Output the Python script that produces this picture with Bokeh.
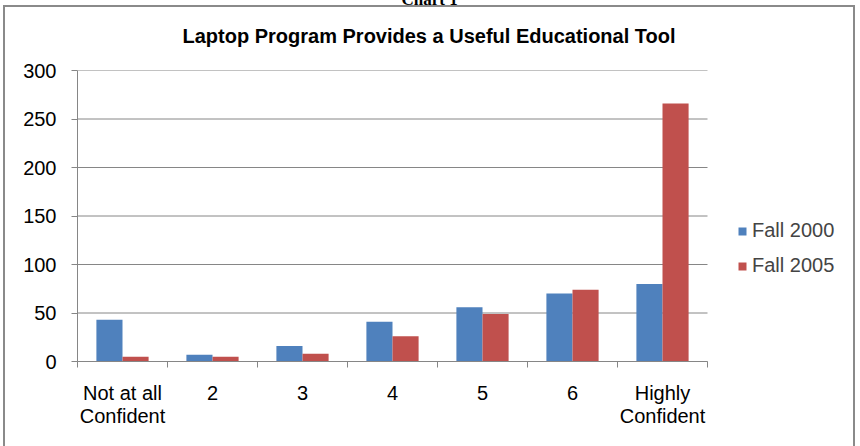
from bokeh.plotting import figure
from bokeh.models import (Range1d, FixedTicker, Legend, LegendItem, ColumnDataSource,
                          Title, InlineStyleSheet)
from bokeh.transform import dodge
from bokeh.embed import file_html
from bokeh.resources import INLINE

categories = ["Not at all\nConfident", "2", "3", "4", "5", "6", "Highly\nConfident"]
fall_2000 = [43, 7, 16, 41, 56, 70, 80]
fall_2005 = [5, 5, 8, 26, 49, 74, 266]
y_ticks = [0, 50, 100, 150, 200, 250, 300]
series_names = ["Fall 2000", "Fall 2005"]
colors = ["#4F81BD", "#C0504D"]
chart_title = "Laptop Program Provides a Useful Educational Tool"
caption = "Chart 1"

FONT = "Liberation Sans"
GRAY = "#868686"
SHIFT = 15          # canvas rows hidden above the window
PLOT_L, PLOT_R = 77, 707   # category area in window pixels
FRAME_R = 852              # frame extends under the legend
n = len(categories)
x_end = n * (FRAME_R - PLOT_L) / (PLOT_R - PLOT_L)

pos = [i + 0.5 for i in range(n)]
src = ColumnDataSource(dict(x=pos, a=fall_2000, b=fall_2005))
grid_src = ColumnDataSource(dict(y=y_ticks, x0=[0] * len(y_ticks), x1=[n] * len(y_ticks)))

css = InlineStyleSheet(css=f"""
:host {{ position: relative; }}
:host::after {{ content: ""; position: absolute; left: 3px; top: {SHIFT + 5}px;
  width: 852px; height: 470px; border: 2px solid #8a8a8a; box-sizing: border-box;
  pointer-events: none; z-index: 100; }}
""")

p = figure(width=860, height=446 + SHIFT, output_backend="svg", toolbar_location=None,
           title=None,
           x_range=Range1d(0, x_end), y_range=Range1d(0, 300),
           min_border_left=PLOT_L, min_border_right=860 - FRAME_R,
           min_border_top=70 + SHIFT, min_border_bottom=85,
           styles={"margin-top": f"-{SHIFT}px"}, stylesheets=[css])
p.outline_line_color = None
p.background_fill_color = "white"
p.border_fill_color = "white"

# horizontal gridlines over the category area only
p.segment(x0="x0", x1="x1", y0="y", y1="y", source=grid_src, line_color=GRAY, line_width=1)

r1 = p.vbar(x=dodge("x", -0.145, range=p.x_range), top="a", width=0.29, source=src,
            fill_color=colors[0], line_color=None)
r2 = p.vbar(x=dodge("x", 0.145, range=p.x_range), top="b", width=0.29, source=src,
            fill_color=colors[1], line_color=None)

# y axis
yax = p.yaxis[0]
yax.ticker = FixedTicker(ticks=y_ticks)
yax.axis_line_color = GRAY
yax.major_tick_line_color = GRAY
yax.major_tick_out = 6
yax.major_tick_in = 0
yax.minor_tick_line_color = None
yax.major_label_text_font = FONT
yax.major_label_text_font_size = "20px"
yax.major_label_text_color = "black"
yax.major_label_standoff = 15

# x axis: labels at category centres, tick marks at category boundaries
xax = p.xaxis[0]
xax.bounds = (0, n)
xax.ticker = FixedTicker(ticks=pos, minor_ticks=list(range(n + 1)))
xax.major_label_overrides = {float(x): c for x, c in zip(pos, categories)}
xax.axis_line_color = GRAY
xax.major_tick_line_color = None
xax.major_tick_out = 0
xax.major_tick_in = 0
xax.minor_tick_line_color = GRAY
xax.minor_tick_out = 6
xax.minor_tick_in = 0
xax.major_label_text_font = FONT
xax.major_label_text_font_size = "20px"
xax.major_label_text_line_height = 1.05
xax.major_label_text_color = "black"
xax.major_label_standoff = 14

p.xgrid.grid_line_color = None
p.ygrid.grid_line_color = None

# blank spacer between the plot frame and the title
p.add_layout(Title(text=" ", text_font_size="6px", standoff=2), "above")

# titles (earlier ones sit nearer the plot frame)
p.add_layout(Title(text=chart_title, align="left", offset=182 - PLOT_L, standoff=28,
                   text_font=FONT, text_font_style="bold", text_font_size="20px",
                   text_color="black"), "above")
p.add_layout(Title(text=caption, align="left", offset=401 - PLOT_L, standoff=0,
                   text_font="Liberation Serif", text_font_style="bold",
                   text_font_size="17px", text_color="black"), "above")

legend = Legend(items=[LegendItem(label=series_names[0], renderers=[r1]),
                       LegendItem(label=series_names[1], renderers=[r2])],
                location=(737 - PLOT_L, 84), orientation="vertical",
                glyph_width=10, glyph_height=10, spacing=12,
                label_standoff=5, padding=0, margin=0,
                label_text_font=FONT, label_text_font_size="20px",
                border_line_color=None, background_fill_alpha=0)
p.add_layout(legend)

open("out.html", "w").write(file_html(p, INLINE))
